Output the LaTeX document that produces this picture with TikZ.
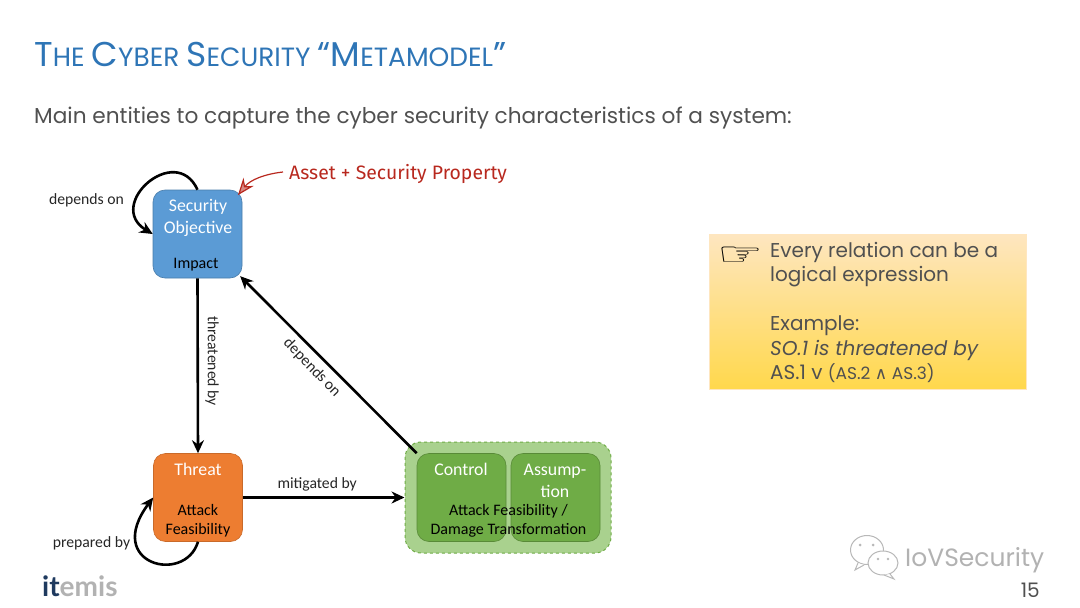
\documentclass[tikz,border=0pt]{standalone}
\usepackage{fontspec}
\setmainfont{Carlito}
\newfontfamily\slidefont{Poppins}
\newfontfamily\notefont{Fira Sans}
\newfontfamily\symfont{DejaVu Sans}
\newfontfamily\logofont{Lato}
\usetikzlibrary{arrows.meta}
\definecolor{titleblue}{HTML}{2E75B6}
\definecolor{slidegray}{HTML}{505050}
\definecolor{soblue}{HTML}{5B9BD5}
\definecolor{threatorange}{HTML}{ED7D31}
\definecolor{ctrlgreen}{HTML}{6FAC46}
\definecolor{groupgreen}{HTML}{A9D18E}
\definecolor{notered}{HTML}{B8281E}
\definecolor{notetop}{HTML}{FEE6C0}
\definecolor{notebottom}{HTML}{FFD84C}
\definecolor{logoblue}{HTML}{1F3A5F}
\newcommand{\capsize}[1]{{\fontsize{34.4}{34.4}\selectfont #1}}
\tikzset{
  boxnode/.style={draw,rounded corners=12pt,minimum width=89pt,minimum height=88pt,line width=0.6pt},
  whitetext/.style={text=white,align=center,font=\fontsize{17.8}{22}\selectfont},
  blacktext/.style={text=black,align=center,font=\fontsize{16}{19}\selectfont},
  edgelabel/.style={text=black!85,font=\fontsize{15.7}{17}\selectfont},
  relation/.style={-{Stealth[length=13pt,width=12pt]},line width=2.6pt,black},
  bubble/.style={draw=black!28,fill=white,line width=1pt},
}
\begin{document}
\begin{tikzpicture}[x=1pt,y=-1pt]
\useasboundingbox (0,0) rectangle (1080,608);
% heading
\node[anchor=base west,inner sep=0,text=titleblue,font=\slidefont\fontsize{26.4}{26.4}\selectfont] (title) at (34,66)
  {\capsize{T}HE \capsize{C}YBER \capsize{S}ECURITY \capsize{“M}ETAMODEL\capsize{”}};
\node[anchor=base west,inner sep=0,text=slidegray,font=\slidefont\fontsize{21.65}{26}\selectfont] (subtitle) at (34,123)
  {Main entities to capture the cyber security characteristics of a system:};
% boxes
\node[boxnode,fill=soblue,draw=soblue!80!black] (so) at (197.5,234) {};
\node[boxnode,fill=threatorange,draw=threatorange!85!black] (threat) at (198,497.5) {};
\node[boxnode,dashed,fill=groupgreen,draw=ctrlgreen,minimum width=206pt,minimum height=111pt,rounded corners=16pt,line width=1pt] (group) at (508,497.5) {};
\node[boxnode,fill=ctrlgreen,draw=ctrlgreen!80!black] (ctrl) at (461.5,497.5) {};
\node[boxnode,fill=ctrlgreen,draw=ctrlgreen!80!black] (assume) at (555.5,497.5) {};
% box texts
\node[whitetext] (sotext) at (198,217.5) {Security\\Objective};
\node[blacktext] (impact) at (196,265) {Impact};
\node[whitetext] (threattext) at (198,469.5) {Threat};
\node[blacktext] (feas) at (198,521) {Attack\\Feasibility};
\node[whitetext] (ctrltext) at (461,469.5) {Control};
\node[whitetext] (assumetext) at (555,480.5) {Assump-\\tion};
\node[blacktext] (ctrlfeas) at (508.5,521) {Attack Feasibility /\\Damage Transformation};
% relations
\draw[relation] (so.north) .. controls +(-22,-48) and +(-48,-29) .. (so.west);
\draw[relation] (so.south) -- (threat.north);
\draw[relation] (threat.south) .. controls +(-13,43) and +(-50,67) .. (threat.west);
\draw[relation] (threat.east) -- node[edgelabel,above=2pt,pos=.46] (mitigated) {mitigated by} (group.west);
\draw[relation,shorten >=-3pt] (ctrl.north west) -- (so.south east);
\node[edgelabel,rotate=-90] (threatened) at (212,361) {threatened by};
\node[edgelabel,rotate=-46] (dependsb) at (312,368) {depends on};
\node[edgelabel] (dependsa) at (86.5,200.5) {depends on};
\node[edgelabel] (prepared) at (91.5,543) {prepared by};
% remark on the objective
\node[anchor=west,inner sep=0,text=notered,font=\notefont\fontsize{19.4}{22}\selectfont] (asset) at (289,174) {Asset + Security Property};
\coordinate (assettail) at (283,172);
\draw[-{Stealth[length=17pt,width=13pt,fill=notered!55]},notered,line width=1.2pt,shorten >=-7pt] (assettail) .. controls +(-18,2) and +(8,-10) .. (so.north east);
% note box
\node[anchor=north west,minimum width=317pt,minimum height=155pt,inner sep=0,top color=notetop,bottom color=notebottom,draw=notetop] (note) at (709,234) {};
\node[anchor=center,inner sep=0,transform shape,xscale=1.9,yscale=1.2,font=\symfont\bfseries\fontsize{27}{27}\selectfont] (hand) at (740,256) {☞};
\node[anchor=north west,inner sep=0,align=left,text=slidegray,font=\slidefont\fontsize{20}{24.4}\selectfont] (notetext) at (770,242)
  {Every relation can be a\\logical expression\\[24.4pt]Example:\\\textit{SO.1 is threatened by}\\AS.1 v {\fontsize{17}{20}\selectfont (AS.2 {\symfont ∧} AS.3)}};
% footer
\node[anchor=base west,inner sep=0,font=\logofont\bfseries\fontsize{28}{28}\selectfont] (logo) at (42,596) {\textcolor{logoblue}{it}\textcolor{black!30}{emis}};
\draw[bubble] (867,550) ellipse (16.5 and 14.5);
\draw[bubble] (858,563) -- (855,570) -- (864,565);
\draw[bubble] (883,563) ellipse (15 and 12);
\draw[bubble] (890,574) -- (894,579) -- (884,575);
\fill[black!28] (860,545) circle (1.5) (873,545) circle (1.5) (878,559) circle (1.3) (888,559) circle (1.3);
\node[anchor=west,inner sep=0,text=black!30,font=\slidefont\fontsize{25}{25}\selectfont] (mark) at (905,560) {IoVSecurity};
\node[anchor=base east,inner sep=0,text=slidegray,font=\slidefont\fontsize{20}{20}\selectfont] (pagenum) at (1040,597) {15};
\end{tikzpicture}
\end{document}
